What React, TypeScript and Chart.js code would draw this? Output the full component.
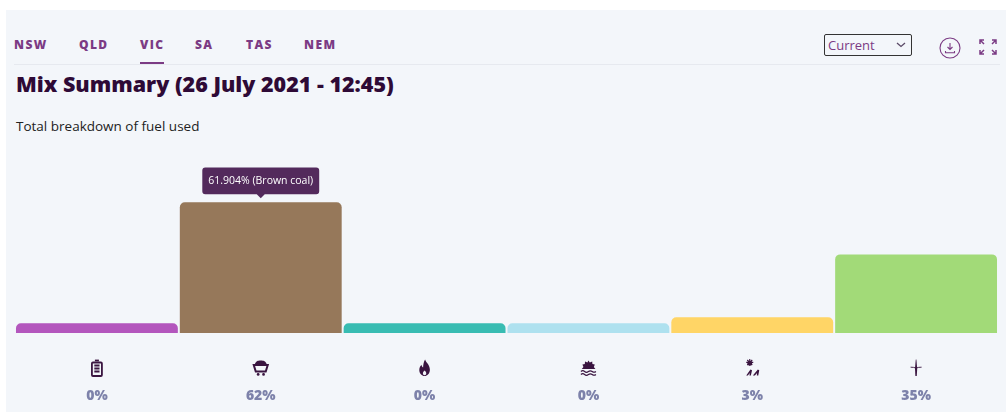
import React, { useEffect, useRef } from "react";
import { Chart, registerables } from "chart.js";

Chart.register(...registerables);

const tabs = ["NSW", "QLD", "VIC", "SA", "TAS", "NEM"];
const tabLefts = [14, 79, 140, 195, 246, 304];
const activeTab = "VIC";
const fuels = ["Battery", "Brown coal", "Gas", "Hydro", "Solar", "Wind"];
const values = [0, 61.904, 0, 0, 3, 35.2];
const percentLabels = ["0%", "62%", "0%", "0%", "3%", "35%"];
const colors = ["#b356bd", "#96785a", "#38bcb2", "#aee1ef", "#ffd566", "#a2da78"];

const ink = "#3a1540";
const FONT = '"Open Sans", "Noto Sans", sans-serif';

const iconPaths: { fill?: string[]; stroke?: string[]; width?: number }[] = [
  { width: 1.8, stroke: ["M-4 -5.5h8a1 1 0 0 1 1 1v11.5a1 1 0 0 1 -1 1h-8a1 1 0 0 1 -1 -1v-11.5a1 1 0 0 1 1 -1z", "M-2 -7.5h4", "M-2.6 -2.5h5.2M-2.6 0.5h5.2M-2.6 3.5h5.2"] },
  { width: 2, stroke: ["M-7 -3h14l-2 6.5h-10z"], fill: ["M-6 -3.5c1 -3.5 3 -4 6 -4s5 .5 6 4z", "M-4 6.4a1.4 1.4 0 1 0 2.8 0a1.4 1.4 0 1 0 -2.8 0z", "M1.4 6.4a1.4 1.4 0 1 0 2.8 0a1.4 1.4 0 1 0 -2.8 0z"] },
  { fill: ["M0.5 -8.5c.8 3 4.8 5.2 4.8 10.2c0 3.8 -2.6 6.3 -5.3 6.3s-5.3 -2.5 -5.3 -6c0 -2.6 1.2 -4 2.2 -5.2c.2 1.4 .8 2.2 1.6 2.6c.2 -3 .6 -5.6 2 -7.9zM0 2.6c-1.2 1.2 -1.7 2 -1.7 3a1.7 1.7 0 0 0 3.4 0c0 -1 -.5 -1.8 -1.7 -3z"] },
  { width: 1.2, fill: ["M0 -7.5l1.4 2l2.4 -1l.2 2.6l2.4 .4l-1 2.4l1.6 2.1h-13.6l1.6 -2.1l-1 -2.4l2.4 -.4l.2 -2.6l2.4 1z"], stroke: ["M-7.5 3.5c1.2 -1 2.5 -1 3.7 0s2.5 1 3.8 0s2.5 -1 3.8 0s2.5 1 3.7 0", "M-7.5 6.5c1.2 -1 2.5 -1 3.7 0s2.5 1 3.8 0s2.5 -1 3.8 0s2.5 1 3.7 0"] },
  { width: 1.1, fill: ["M-2.5 -7.2a2.4 2.4 0 1 0 .01 0z", "M-6 7.5l4.2 -6l1.6 .8l-1.2 5.2h-1.4l.4 -2.6l-2 2.6z", "M0.6 7.5l5 -6l1.4 .8l-1 5.2h-1.4l.2 -2.6l-2.2 2.6z"], stroke: ["M-2.5 -9v6.8M-6 -5.6h7M-5 -8l5 5M0 -8l-5 5"] },
  { width: 0.9, stroke: ["M-5.5 -.8c2 0 4 .2 5.5 .8c1.5 -.6 3.5 -.8 5.5 -.8"], fill: ["M-.3 -8.5h.6l.8 9l-.4 7.5h-1.4l-.4 -7.5z"] },
];

const iconsPlugin = {
  id: "fuelIcons",
  afterDraw(chart: any) {
    const ctx = chart.ctx as CanvasRenderingContext2D;
    const x = chart.scales.x;
    const cy = chart.scales.y.bottom + 35;
    iconPaths.forEach((icon, i) => {
      ctx.save();
      ctx.translate(x.getPixelForTick(i), cy);
      ctx.strokeStyle = ink;
      ctx.fillStyle = ink;
      ctx.lineWidth = icon.width || 1.5;
      (icon.stroke || []).forEach((d) => ctx.stroke(new Path2D(d)));
      (icon.fill || []).forEach((d) => ctx.fill(new Path2D(d)));
      ctx.restore();
    });
  },
};

const chevron =
  "data:image/svg+xml;utf8," +
  encodeURIComponent(
    '<svg xmlns="http://www.w3.org/2000/svg" width="10" height="6"><path d="M1 1l4 3.5l4 -3.5" fill="none" stroke="#5a4a66" stroke-width="1.3"/></svg>'
  );

function App() {
  const ref = useRef<HTMLCanvasElement>(null);
  useEffect(() => {
    if (!ref.current) return;
    const chart = new Chart(ref.current, {
      type: "bar",
      plugins: [iconsPlugin],
      data: {
        labels: percentLabels,
        datasets: [
          {
            data: values,
            backgroundColor: colors,
            base: -5,
            borderRadius: { topLeft: 5, topRight: 5, bottomLeft: 0, bottomRight: 0 },
            borderSkipped: false,
            barPercentage: 0.988,
            categoryPercentage: 1,
          },
        ],
      },
      options: {
        animation: false,
        responsive: false,
        events: [],
        layout: { padding: { left: 15, right: 8, top: 0, bottom: 0 } },
        scales: {
          x: {
            grid: { display: false },
            border: { display: false },
            afterFit: (s: any) => {
              s.height = 79;
            },
            ticks: {
              padding: 47,
              maxRotation: 0,
              color: "#7d82aa",
              font: { family: FONT, size: 14, weight: "800" },
            },
          },
          y: { display: false, min: -5, max: 88.6 },
        },
        plugins: {
          legend: { display: false },
          tooltip: {
            enabled: true,
            backgroundColor: "#532a5c",
            displayColors: false,
            cornerRadius: 3,
            caretSize: 4,
            caretPadding: 4,
            yAlign: "bottom",
            xAlign: "center",
            padding: { left: 6, right: 6, top: 7, bottom: 7 },
            bodyColor: "#ffffff",
            bodyFont: { family: FONT, size: 10.5 },
            callbacks: {
              title: () => "",
              label: (c: any) => `${c.parsed.y}% (${fuels[c.dataIndex]})`,
            },
          },
        },
      },
    } as any);
    chart.tooltip!.setActiveElements([{ datasetIndex: 0, index: 1 }], { x: 0, y: 0 });
    chart.update();
    return () => chart.destroy();
  }, []);

  return (
    <div style={{ position: "fixed", inset: 0, background: "#fff", overflow: "hidden", fontFamily: FONT }}>
      <div style={{ position: "absolute", left: 6, top: 10, right: 0, bottom: 0, background: "#f3f6fa" }} />
      {tabs.map((t, i) => (
        <div
          key={t}
          style={{
            position: "absolute",
            left: tabLefts[i],
            top: 36,
            fontSize: 12,
            lineHeight: "18px",
            fontWeight: 800,
            letterSpacing: 1.4,
            color: "#7b3b84",
          }}
        >
          {t}
        </div>
      ))}
      <div style={{ position: "absolute", left: 14, right: 6, top: 64, height: 1, background: "#e6e9ef" }} />
      <div
        style={{
          position: "absolute",
          left: tabLefts[tabs.indexOf(activeTab)],
          top: 62,
          width: 24,
          height: 2,
          background: "#7b3b84",
        }}
      />
      <div
        style={{
          position: "absolute",
          left: 16,
          top: 69,
          fontSize: 21.5,
          lineHeight: "30px",
          fontWeight: 800,
          color: "#2e0a36",
          whiteSpace: "nowrap",
        }}
      >
        Mix Summary (26 July 2021 - 12:45)
      </div>
      <div
        style={{
          position: "absolute",
          left: 16,
          top: 116,
          fontSize: 13.5,
          lineHeight: "20px",
          color: "#222",
          whiteSpace: "nowrap",
        }}
      >
        Total breakdown of fuel used
      </div>
      <select
        defaultValue="Current"
        style={{
          position: "absolute",
          left: 824,
          top: 34,
          width: 88,
          height: 22,
          boxSizing: "border-box",
          border: "1.5px solid #333",
          borderRadius: 2,
          appearance: "none",
          WebkitAppearance: "none",
          background: `transparent url("${chevron}") no-repeat right 5px center`,
          color: "#7b3b84",
          fontSize: 13,
          fontFamily: FONT,
          padding: "0 0 0 3px",
        }}
      >
        <option>Current</option>
      </select>
      <svg style={{ position: "absolute", left: 938, top: 36 }} width="24" height="24" viewBox="0 0 24 24" fill="none" stroke="#7b3b84" strokeWidth="1.1">
        <circle cx="12" cy="12" r="10" />
        <path d="M12 7v6.5M9.5 11l2.5 2.5l2.5 -2.5M7.5 15v1.8h9v-1.8" />
      </svg>
      <svg style={{ position: "absolute", left: 978, top: 38 }} width="20" height="18" viewBox="0 0 20 18" fill="none" stroke="#7b3b84" strokeWidth="1.5">
        <path d="M2 6V2h4M2 2l4 4M18 6V2h-4M18 2l-4 4M2 12v4h4M2 16l4 -4M18 12v4h-4M18 16l-4 -4" />
      </svg>
      <canvas ref={ref} width={1006} height={262} style={{ position: "absolute", left: 0, top: 150, display: "block" }} />
    </div>
  );
}

export default App;
